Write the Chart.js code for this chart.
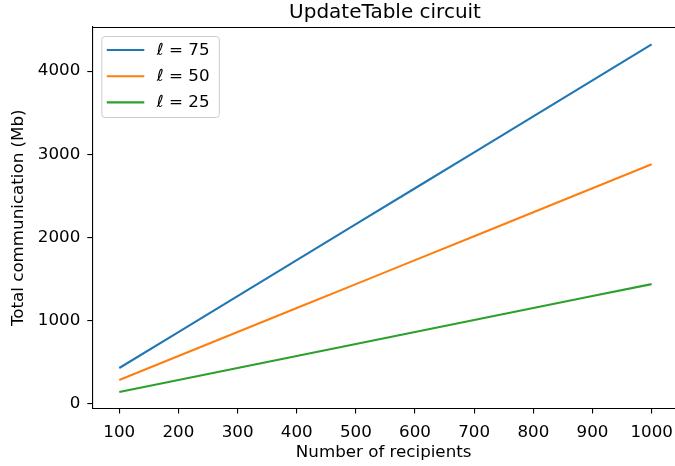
<!DOCTYPE html>
<html>
<head>
<meta charset="utf-8">
<script src="https://cdn.jsdelivr.net/npm/chart.js@4/dist/chart.umd.min.js"></script>
<style>
  html, body { margin: 0; padding: 0; background: #fff; }
  #c { display: block; }
</style>
</head>
<body>
<canvas id="c" width="675" height="466"></canvas>
<script>
// ---- data ----
const recipients = [100, 200, 300, 400, 500, 600, 700, 800, 900, 1000];
const comm_l75 = [432, 864, 1296, 1728, 2160, 2592, 3024, 3456, 3888, 4320];
const comm_l50 = [288, 576, 864, 1152, 1440, 1728, 2016, 2304, 2592, 2880];
const comm_l25 = [144, 288, 432, 576, 720, 864, 1008, 1152, 1296, 1440];
const seriesLabels = ['ℓ = 75', 'ℓ = 50', 'ℓ = 25'];
const xTickValues = [100, 200, 300, 400, 500, 600, 700, 800, 900, 1000];
const yTickValues = [0, 1000, 2000, 3000, 4000];
const chartTitle = 'UpdateTable circuit';
const xTitle = 'Number of recipients';
const yTitle = 'Total communication (Mb)';

const FONT = '"DejaVu Sans", sans-serif';
const FS = 16.7;
const colors = ['#1f77b4', '#ff7f0e', '#2ca02c'];
const seriesValues = [comm_l75, comm_l50, comm_l25];

const datasets = seriesValues.map((vals, i) => ({
  label: seriesLabels[i],
  data: recipients.map((x, j) => ({ x: x, y: vals[j] })),
  borderColor: colors[i],
  backgroundColor: colors[i],
  borderWidth: 2.1,
  pointRadius: 0,
  tension: 0,
  fill: false
}));

const framePlugin = {
  id: 'frame',
  afterDraw(chart) {
    const { ctx, chartArea } = chart;
    ctx.save();
    // top spine
    ctx.strokeStyle = '#000';
    ctx.lineWidth = 1.1;
    ctx.beginPath();
    ctx.moveTo(chartArea.left, chartArea.top + 0.5);
    ctx.lineTo(chartArea.right, chartArea.top + 0.5);
    ctx.stroke();
    // title centred over axes
    ctx.fillStyle = '#000';
    ctx.font = '20px ' + FONT;
    ctx.textAlign = 'center';
    ctx.textBaseline = 'alphabetic';
    ctx.fillText(chartTitle, 385, 18);
    // legend
    const bx = chartArea.left + 9.5, by = chartArea.top + 9.5, bw = 117.5, bh = 81, r = 3;
    ctx.beginPath();
    ctx.moveTo(bx + r, by);
    ctx.lineTo(bx + bw - r, by);
    ctx.arcTo(bx + bw, by, bx + bw, by + r, r);
    ctx.lineTo(bx + bw, by + bh - r);
    ctx.arcTo(bx + bw, by + bh, bx + bw - r, by + bh, r);
    ctx.lineTo(bx + r, by + bh);
    ctx.arcTo(bx, by + bh, bx, by + bh - r, r);
    ctx.lineTo(bx, by + r);
    ctx.arcTo(bx, by, bx + r, by, r);
    ctx.closePath();
    ctx.fillStyle = 'rgba(255,255,255,0.8)';
    ctx.fill();
    ctx.strokeStyle = '#cccccc';
    ctx.lineWidth = 1;
    ctx.stroke();
    ctx.font = FS + 'px ' + FONT;
    ctx.textAlign = 'left';
    ctx.textBaseline = 'middle';
    chart.data.datasets.forEach((ds, i) => {
      const ly = by + 13.5 + i * 26.2;
      ctx.strokeStyle = ds.borderColor;
      ctx.lineWidth = 2.1;
      ctx.beginPath();
      ctx.moveTo(bx + 5, ly);
      ctx.lineTo(bx + 42.5, ly);
      ctx.stroke();
      ctx.fillStyle = '#000';
      ctx.fillText(ds.label, bx + 55, ly + 0.5);
    });
    ctx.restore();
  }
};

new Chart(document.getElementById('c'), {
  type: 'line',
  data: { datasets: datasets },
  options: {
    responsive: false,
    animation: false,
    devicePixelRatio: 1,
    layout: { padding: { top: 27, left: 0, right: 0, bottom: 0 } },
    plugins: {
      legend: { display: false },
      title: { display: false },
      tooltip: { enabled: false }
    },
    scales: {
      x: {
        type: 'linear',
        min: 54.4,
        max: 1039.5,
        afterBuildTicks(scale) { scale.ticks = xTickValues.map(v => ({ value: v })); },
        afterFit(scale) { scale.height = 57.5; scale.paddingLeft = 0; scale.paddingRight = 0; },
        grid: { drawOnChartArea: false, drawTicks: true, tickLength: 5, color: '#000', lineWidth: 1.1 },
        border: { display: true, color: '#000', width: 1.1 },
        ticks: { color: '#000', font: { family: FONT, size: FS }, padding: 9, maxRotation: 0, autoSkip: false,
                 callback: v => String(v) },
        title: { display: true, text: xTitle, color: '#000', font: { family: FONT, size: FS }, padding: { top: 0, bottom: 3 } }
      },
      y: {
        type: 'linear',
        min: -55,
        max: 4530,
        afterBuildTicks(scale) { scale.ticks = yTickValues.map(v => ({ value: v })); },
        afterFit(scale) { scale.width = 92.3; scale.paddingTop = 0; scale.paddingBottom = 0; },
        grid: { drawOnChartArea: false, drawTicks: true, tickLength: 5, color: '#000', lineWidth: 1.1 },
        border: { display: true, color: '#000', width: 1.1 },
        ticks: { color: '#000', font: { family: FONT, size: FS }, padding: 7, autoSkip: false,
                 callback: v => String(v) },
        title: { display: true, text: yTitle, color: '#000', font: { family: FONT, size: FS }, padding: { top: 8.5, bottom: 0 } }
      }
    }
  },
  plugins: [framePlugin]
});
</script>
</body>
</html>
